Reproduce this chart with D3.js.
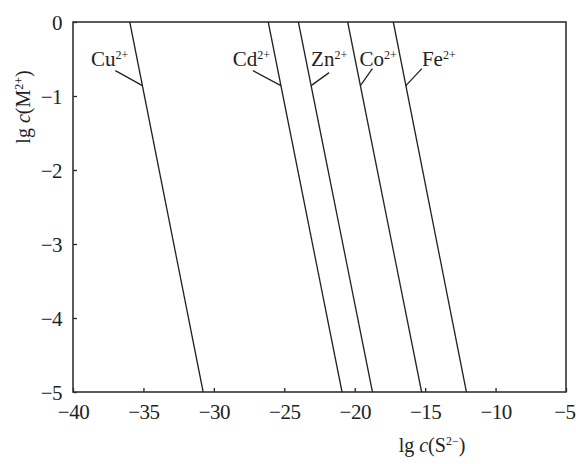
<!DOCTYPE html>
<html>
<head>
<meta charset="utf-8">
<script src="https://cdn.jsdelivr.net/npm/d3@7"></script>
<style>
  body { margin: 0; background: #fff; }
  text { font-family: "Liberation Serif", "Times New Roman", serif; fill: #222; }
</style>
</head>
<body>
<div id="vis"></div>
<script>
// sulfide solubility lines: lg c(M2+) vs lg c(S2-)
var metals = ["Cu", "Cd", "Zn", "Co", "Fe"],
    xAtTop = [-35.97, -26.14, -24.0, -20.5, -17.26],     // lg c(S2-) where lg c(M2+) = 0
    xAtBottom = [-30.76, -20.9, -18.74, -15.25, -12.07], // lg c(S2-) where lg c(M2+) = -5
    xTicks = [-40, -35, -30, -25, -20, -15, -10, -5],
    yTicks = [0, -1, -2, -3, -4, -5];

var w = 576, h = 464,
    m = {top: 22, right: 10, bottom: 72, left: 73},
    iw = w - m.left - m.right,
    ih = h - m.top - m.bottom;

var x = d3.scaleLinear().domain([-40, -5]).range([0, iw]),
    y = d3.scaleLinear().domain([-5, 0]).range([ih, 0]);

var svg = d3.select("#vis").append("svg")
    .attr("width", w)
    .attr("height", h);

var g = svg.append("g")
    .attr("transform", "translate(" + m.left + "," + m.top + ")");

function minus(d) { return String(d).replace("-", "\u2212"); }

// axes, ticks pointing in
var xAxis = g.append("g")
    .attr("transform", "translate(0," + ih + ")")
    .call(d3.axisBottom(x).tickValues(xTicks).tickSizeInner(-4).tickSizeOuter(0).tickPadding(12)
      .tickFormat(minus));

var yAxis = g.append("g")
    .call(d3.axisLeft(y).tickValues(yTicks).tickSizeInner(-4).tickSizeOuter(0).tickPadding(11)
      .tickFormat(minus));

[xAxis, yAxis].forEach(function(a) {
  a.select(".domain").remove();
  a.selectAll("line").attr("stroke", "#222").attr("stroke-width", 1.3);
  a.selectAll("text").attr("font-size", 21).attr("fill", "#222")
    .attr("letter-spacing", -0.5)
    .style("font-family", "'Liberation Serif', serif");
});
yAxis.selectAll("text").attr("dy", "0.34em");
// last x label sits at the window edge
xAxis.selectAll(".tick").filter(function(d) { return d === -5; })
  .select("text").attr("text-anchor", "end").attr("dx", 9);

// frame
g.append("rect")
    .attr("width", iw)
    .attr("height", ih)
    .attr("fill", "none")
    .attr("stroke", "#333")
    .attr("stroke-width", 1.6);

// the lines
var lines = metals.map(function(d, i) {
  return {name: d, x0: xAtTop[i], x1: xAtBottom[i]};
});

g.selectAll("line.ion")
    .data(lines)
  .enter().append("line")
    .attr("class", "ion")
    .attr("x1", function(d) { return x(d.x0); })
    .attr("y1", y(0))
    .attr("x2", function(d) { return x(d.x1); })
    .attr("y2", y(-5))
    .attr("stroke", "#222")
    .attr("stroke-width", 1.3);

// labels with leader lines (pixel offsets from the point where leader hits the line)
var leader = [
  {dx: -27, dy: -15, tx: 13, anchor: "end"},
  {dx: -28, dy: -15, tx: 17, anchor: "end"},
  {dx: 18, dy: -13, tx: -18, anchor: "start"},
  {dx: 12, dy: -17, tx: -13, anchor: "start"},
  {dx: 16, dy: -17, tx: 0, anchor: "start"}
];
var yHit = -0.86;

lines.forEach(function(d, i) {
  var t = (0 - yHit) / 5,
      px = x(d.x0 + (d.x1 - d.x0) * t),
      py = y(yHit),
      L = leader[i];
  g.append("line")
      .attr("x1", px).attr("y1", py)
      .attr("x2", px + L.dx).attr("y2", py + L.dy)
      .attr("stroke", "#222")
      .attr("stroke-width", 1.3);
  var txt = g.append("text")
      .attr("x", px + L.dx + L.tx)
      .attr("y", 44)
      .attr("text-anchor", L.anchor)
      .attr("font-size", 21);
  txt.append("tspan").text(d.name);
  txt.append("tspan").attr("dy", -7).attr("font-size", 12).text("2+");
});

// axis titles
var xt = svg.append("text")
    .attr("x", 432)
    .attr("y", 452)
    .attr("text-anchor", "middle")
    .attr("font-size", 20);
xt.append("tspan").text("lg ");
xt.append("tspan").attr("font-style", "italic").text("c");
xt.append("tspan").text("(S");
xt.append("tspan").attr("dy", -7).attr("font-size", 12).text("2\u2212");
xt.append("tspan").attr("dy", 7).text(")");

var yt = svg.append("text")
    .attr("transform", "translate(30,107) rotate(-90)")
    .attr("text-anchor", "middle")
    .attr("font-size", 20);
yt.append("tspan").text("lg ");
yt.append("tspan").attr("font-style", "italic").text("c");
yt.append("tspan").text("(M");
yt.append("tspan").attr("dy", -7).attr("font-size", 12).text("2+");
yt.append("tspan").attr("dy", 7).text(")");
</script>
</body>
</html>
